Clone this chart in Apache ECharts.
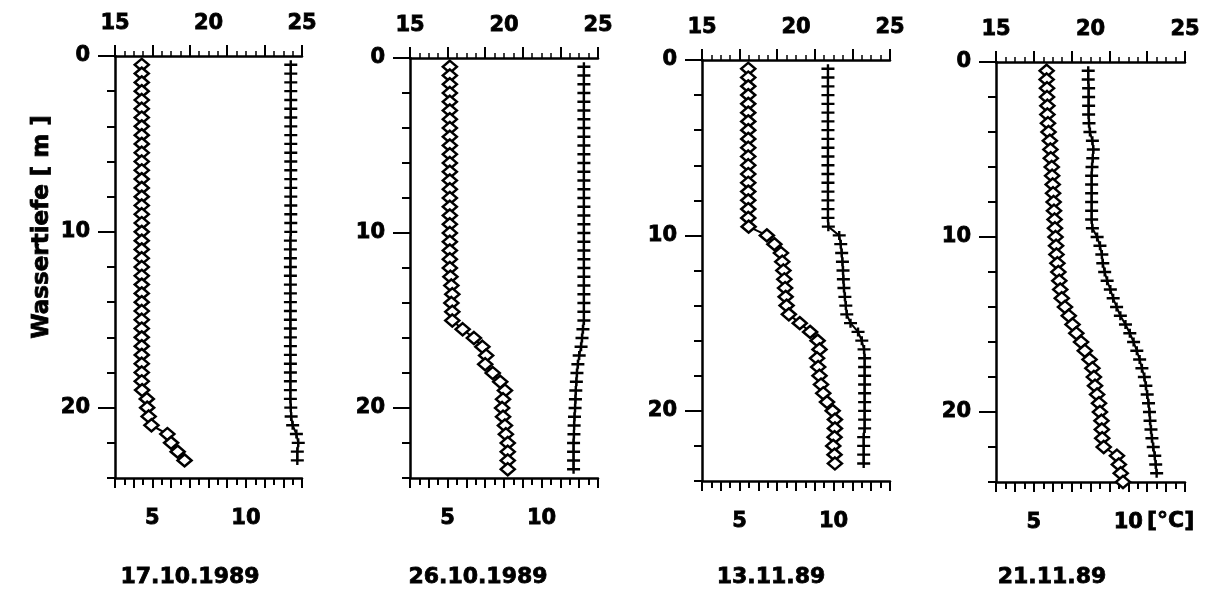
<!DOCTYPE html>
<html>
<head>
<meta charset="utf-8">
<script src="https://cdn.jsdelivr.net/npm/echarts@6/dist/echarts.min.js"></script>
<style>
html,body{margin:0;padding:0;background:#fff;}
#chart{width:1213px;height:589px;}
</style>
</head>
<body>
<div id="chart"></div>
<script>
// Depth of each measurement [m]
const depths = [0.5,1,1.5,2,2.5,3,3.5,4,4.5,5,5.5,6,6.5,7,7.5,8,8.5,9,9.5,10,
  10.5,11,11.5,12,12.5,13,13.5,14,14.5,15,15.5,16,16.5,17,17.5,18,18.5,19,19.5,20,
  20.5,21,21.5,22,22.5,23,23.5,24];

// Panel titles
const titles = ['17.10.1989', '26.10.1989', '13.11.89', '21.11.89'];

// Tick labels
const bottomLabels = [5, 10];
const topLabels = [15, 20, 25];
const depthLabels = [0, 10, 20];

// Temperature (+ markers, bottom axis, °C)
const temp1 = [12.4,12.4,12.4,12.4,12.4,12.4,12.4,12.4,12.4,12.4,12.4,12.4,12.4,12.4,12.4,12.4,12.4,12.4,12.4,12.4,
  12.38,12.38,12.38,12.38,12.38,12.38,12.38,12.38,12.38,12.38,12.38,12.38,12.38,12.38,12.38,12.38,12.38,12.38,12.38,12.4,
  12.42,12.5,12.7,12.8,12.75,12.75];
const temp2 = [12.25,12.25,12.25,12.25,12.25,12.25,12.25,12.25,12.25,12.25,12.25,12.25,12.25,12.25,12.25,12.25,12.25,12.25,12.25,12.25,
  12.25,12.25,12.25,12.25,12.25,12.25,12.25,12.25,12.25,12.25,
  12.2,12.15,12.1,12.0,11.93,11.88,11.85,11.82,11.8,11.78,11.75,11.73,11.72,11.7,11.7,11.7,11.7];
const temp3 = [9.7,9.7,9.7,9.7,9.7,9.7,9.7,9.7,9.7,9.7,9.7,9.7,9.7,9.7,9.7,9.7,9.7,9.7,
  9.72,10.3,10.38,10.43,10.47,10.5,10.52,10.55,10.6,10.65,10.7,10.9,11.3,11.5,11.62,11.65,11.65,11.65,11.65,11.65,11.65,11.65,
  11.65,11.65,11.6,11.6,11.6,11.6];
const temp4 = [7.88,7.88,7.9,7.9,7.9,7.9,7.92,7.97,8.1,8.15,8.12,8.08,8.06,8.06,8.06,8.06,8.06,8.06,
  8.1,8.35,8.5,8.6,8.65,8.75,8.88,9.05,9.2,9.38,9.58,9.85,10.08,10.28,10.45,10.6,10.72,10.85,10.93,11.0,
  11.07,11.12,11.15,11.2,11.25,11.32,11.4,11.45,11.5];

// Second parameter (diamond markers, top axis 15-25)
const top1 = [16.43,16.43,16.43,16.43,16.43,16.43,16.43,16.43,16.43,16.43,16.43,16.43,16.43,16.43,16.43,16.43,16.43,16.43,16.43,16.43,
  16.43,16.43,16.43,16.43,16.43,16.43,16.43,16.43,16.43,16.43,16.43,16.43,16.43,16.43,16.43,16.43,16.43,16.45,
  16.7,16.72,16.8,16.95,17.8,18.0,18.35,18.72];
const top2 = [17.12,17.12,17.12,17.12,17.12,17.12,17.12,17.12,17.12,17.12,17.12,17.12,17.12,17.12,17.12,17.12,17.12,17.12,17.12,17.12,
  17.12,17.12,17.12,17.12,17.15,17.2,17.25,17.2,17.25,17.25,
  17.8,18.4,18.85,19.05,19.0,19.4,19.8,20.05,19.95,19.9,19.95,20.05,20.1,20.2,20.2,20.2,20.2];
const top3 = [17.46,17.46,17.46,17.46,17.46,17.46,17.46,17.46,17.46,17.46,17.46,17.46,17.46,17.46,17.46,17.46,17.46,17.46,17.48,
  18.45,18.85,19.2,19.27,19.33,19.38,19.42,19.45,19.5,19.62,20.2,20.75,21.15,21.25,21.12,21.18,21.25,21.33,21.45,21.65,21.95,
  22.07,22.07,22.05,21.98,22.05,22.07];
const top4 = [17.68,17.68,17.7,17.7,17.72,17.72,17.75,17.78,17.85,17.88,17.9,17.95,17.97,18.0,18.02,18.05,18.07,18.1,18.12,18.15,
  18.18,18.2,18.25,18.3,18.35,18.4,18.48,18.65,18.85,19.05,19.25,19.5,19.7,19.95,20.1,20.18,20.24,20.35,20.45,20.5,
  20.58,20.6,20.62,20.7,21.4,21.5,21.6,21.72];

const tempSeries = [temp1, temp2, temp3, temp4];
const topSeries = [top1, top2, top3, top4];

const grids = [
  {left: 115, top: 56, width: 187, height: 422},
  {left: 410, top: 58, width: 188, height: 420},
  {left: 702, top: 60, width: 188, height: 421},
  {left: 996, top: 62, width: 189, height: 420}
];
const titleX = [190, 478, 771, 1052];

const labelFont = {color: '#000', fontWeight: 'bold', fontSize: 21, fontFamily: 'DejaVu Sans',
  textBorderColor: '#000', textBorderWidth: 0.8};
const lineCol = '#000';

const xAxis = [], yAxis = [], series = [], graphic = [];
const crossPath = 'path://M0,3.7L12,3.7L12,6.3L0,6.3Z M4.9,0L7.1,0L7.1,10L4.9,10Z';

grids.forEach((g, i) => {
  // bottom temperature axis
  xAxis.push({
    type: 'value', gridIndex: i, position: 'bottom', min: 3, max: 13, interval: 1,
    axisLine: {show: true, onZero: false, lineStyle: {color: lineCol, width: 2.5}},
    axisTick: {show: true, inside: false, length: 10, lineStyle: {color: lineCol, width: 2}},
    minorTick: {show: true, splitNumber: 2, length: 7, lineStyle: {color: lineCol, width: 2}},
    splitLine: {show: false},
    axisLabel: Object.assign({margin: 30, formatter: v => bottomLabels.includes(v) ? String(v) : ''}, labelFont)
  });
  // top axis with ticks
  xAxis.push({
    type: 'value', gridIndex: i, position: 'top', min: 15, max: 25, interval: 2,
    axisLine: {show: true, onZero: false, lineStyle: {color: lineCol, width: 2.5}},
    axisTick: {show: true, inside: false, length: 11, lineStyle: {color: lineCol, width: 2}},
    minorTick: {show: true, splitNumber: 4, length: 5, lineStyle: {color: lineCol, width: 1.5}},
    splitLine: {show: false},
    axisLabel: {show: false}
  });
  // top axis labels
  xAxis.push({
    type: 'value', gridIndex: i, position: 'top', min: 15, max: 25, interval: 5,
    axisLine: {show: false}, axisTick: {show: false}, splitLine: {show: false},
    axisLabel: Object.assign({margin: 22, formatter: v => topLabels.includes(v) ? String(v) : ''}, labelFont)
  });
  // depth axis with minor ticks
  yAxis.push({
    type: 'value', gridIndex: i, position: 'left', inverse: true, min: 0, max: 24, interval: 2,
    axisLine: {show: true, onZero: false, lineStyle: {color: lineCol, width: 2.5}},
    axisTick: {show: true, inside: false, length: 8, lineStyle: {color: lineCol, width: 2}},
    splitLine: {show: false},
    axisLabel: {show: false}
  });
  // depth axis labels
  yAxis.push({
    type: 'value', gridIndex: i, position: 'left', inverse: true, min: 0, max: 24, interval: 10,
    axisLine: {show: false},
    axisTick: {show: true, inside: false, length: 17, customValues: depthLabels, lineStyle: {color: lineCol, width: 2}},
    splitLine: {show: false},
    axisLabel: Object.assign({margin: 25, customValues: depthLabels,
      formatter: v => depthLabels.includes(v) ? String(v) : ''}, labelFont)
  });

  const tv = tempSeries[i];
  series.push({
    type: 'line', xAxisIndex: 3 * i, yAxisIndex: 2 * i,
    data: tv.map((v, k) => [v, depths[k]]),
    symbol: crossPath, symbolSize: [13, 9], showAllSymbol: true,
    itemStyle: {color: '#000'},
    lineStyle: {color: '#000', width: 2},
    z: 3
  });
  const dv = topSeries[i];
  series.push({
    type: 'line', xAxisIndex: 3 * i + 1, yAxisIndex: 2 * i,
    data: dv.map((v, k) => [v, depths[k]]),
    symbol: 'diamond', symbolSize: [14, 12], showAllSymbol: true,
    itemStyle: {color: '#fff', borderColor: '#000', borderWidth: 2.5},
    lineStyle: {color: '#000', width: 2},
    z: 4
  });

  graphic.push({
    type: 'text', x: titleX[i], y: 577,
    style: {text: titles[i], fill: '#000', stroke: '#000', lineWidth: 0.8,
      font: 'bold 22px "DejaVu Sans"', align: 'center', verticalAlign: 'middle'}
  });
});

graphic.push({
  type: 'text', x: 42, y: 227, rotation: Math.PI / 2,
  style: {text: 'Wassertiefe [ m ]', fill: '#000', stroke: '#000', lineWidth: 0.8,
    font: 'bold 23px "DejaVu Sans"', align: 'center', verticalAlign: 'middle'}
});
graphic.push({
  type: 'text', x: 1147, y: 521,
  style: {text: '[°C]', fill: '#000', stroke: '#000', lineWidth: 0.8,
    font: 'bold 22px "DejaVu Sans"', align: 'left', verticalAlign: 'middle'}
});

const chart = echarts.init(document.getElementById('chart'), null, {renderer: 'canvas'});
chart.setOption({
  animation: false,
  backgroundColor: '#fff',
  grid: grids.map(g => Object.assign({containLabel: false}, g)),
  xAxis: xAxis,
  yAxis: yAxis,
  series: series,
  graphic: graphic
});
</script>
</body>
</html>
